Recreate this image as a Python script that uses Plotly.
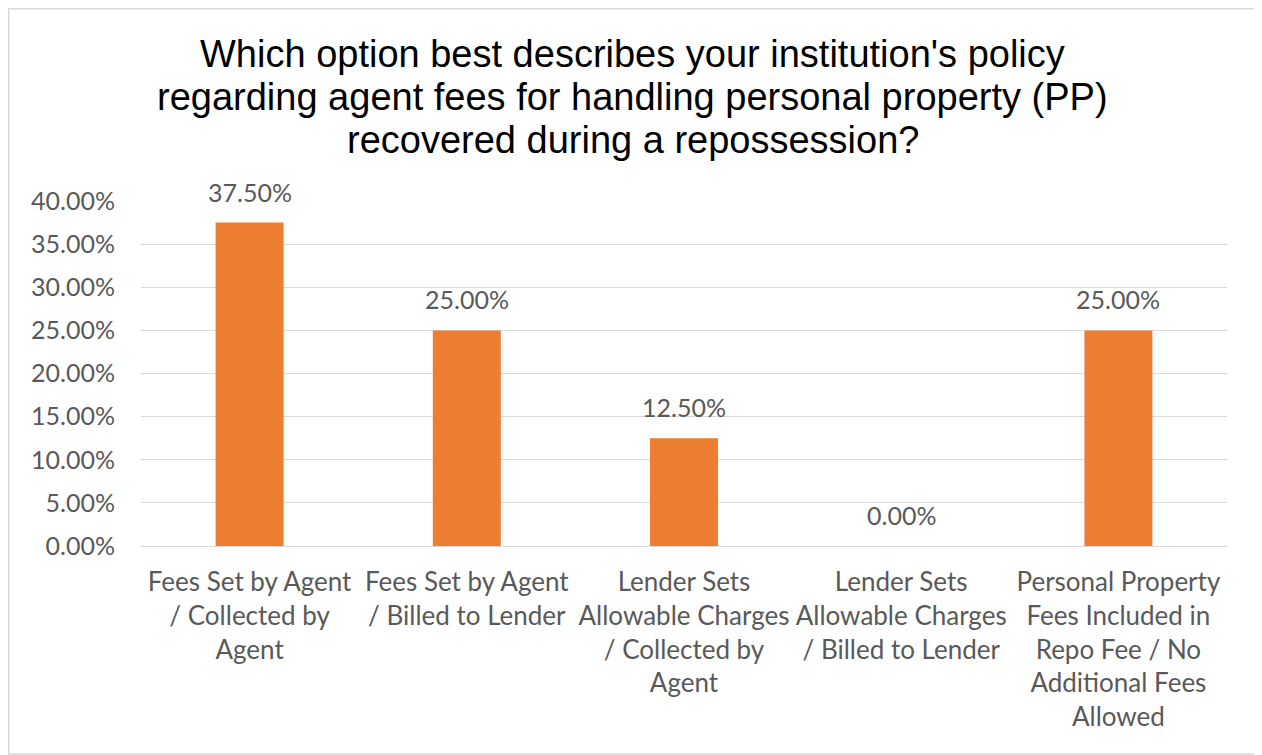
import plotly.graph_objects as go

categories = [
    "Fees Set by Agent<br>/ Collected by<br>Agent",
    "Fees Set by Agent<br>/ Billed to Lender",
    "Lender Sets<br>Allowable Charges<br>/ Collected by<br>Agent",
    "Lender Sets<br>Allowable Charges<br>/ Billed to Lender",
    "Personal Property<br>Fees Included in<br>Repo Fee / No<br>Additional Fees<br>Allowed",
]
values = [0.375, 0.25, 0.125, 0.0, 0.25]
title_lines = [
    "Which option best describes your institution's policy",
    "regarding agent fees for handling personal property (PP)",
    "recovered during a repossession?",
]

TXT = "#595959"
FONT = "Lato"
FS = 25

# figure-space geometry (page adds an 8px body margin)
FW, FH = 1254, 747
L, R, T, B = 133, 1219, 193, 538
W, H = R - L, B - T

fig = go.Figure()
fig.add_trace(go.Bar(
    x=categories, y=values, marker_color="#ED7D31", marker_line_width=0,
    hoverinfo="skip",
))

for c, v in zip(categories, values):
    fig.add_annotation(x=c, y=v, text=f"{v*100:.2f}%", showarrow=False,
                       yanchor="bottom", yshift=14,
                       font=dict(family=FONT, size=FS, color=TXT))

# title, one annotation per line for tighter line spacing
title_y = [46, 89.5, 132]
for line, ty in zip(title_lines, title_y):
    fig.add_annotation(xref="paper", yref="paper",
                       x=(624.5 - L) / W, y=(B - ty) / H,
                       xanchor="center", yanchor="middle",
                       text=line, showarrow=False,
                       font=dict(family="Liberation Sans", size=38, color="black"))

# outer chart border
fig.add_shape(type="rect", xref="paper", yref="paper",
              x0=(0.75 - L) / W, x1=(FW - 1 - L) / W,
              y0=(B - (FH - 1)) / H, y1=(B - 0.75) / H,
              line=dict(color="#d9d9d9", width=1.5), fillcolor="rgba(0,0,0,0)",
              layer="below")

fig.update_layout(
    width=FW, height=FH,
    margin=dict(l=L, r=FW - R, t=T, b=FH - B),
    paper_bgcolor="white", plot_bgcolor="white",
    bargap=0.687,
    showlegend=False,
    font=dict(family=FONT, size=FS, color=TXT),
    xaxis=dict(showgrid=False, showline=False, ticks="",
               tickfont=dict(family=FONT, size=26, color=TXT),
               ticklabelstandoff=18),
    yaxis=dict(range=[0, 0.4], dtick=0.05, tickformat=".2%",
               showgrid=True, gridcolor="#d9d9d9", gridwidth=1.3,
               zeroline=True, zerolinecolor="#d9d9d9", zerolinewidth=1.3,
               showline=False, ticks="",
               tickfont=dict(family=FONT, size=FS, color=TXT),
               ticklabelstandoff=25),
)

fig.write_html("out.html")
